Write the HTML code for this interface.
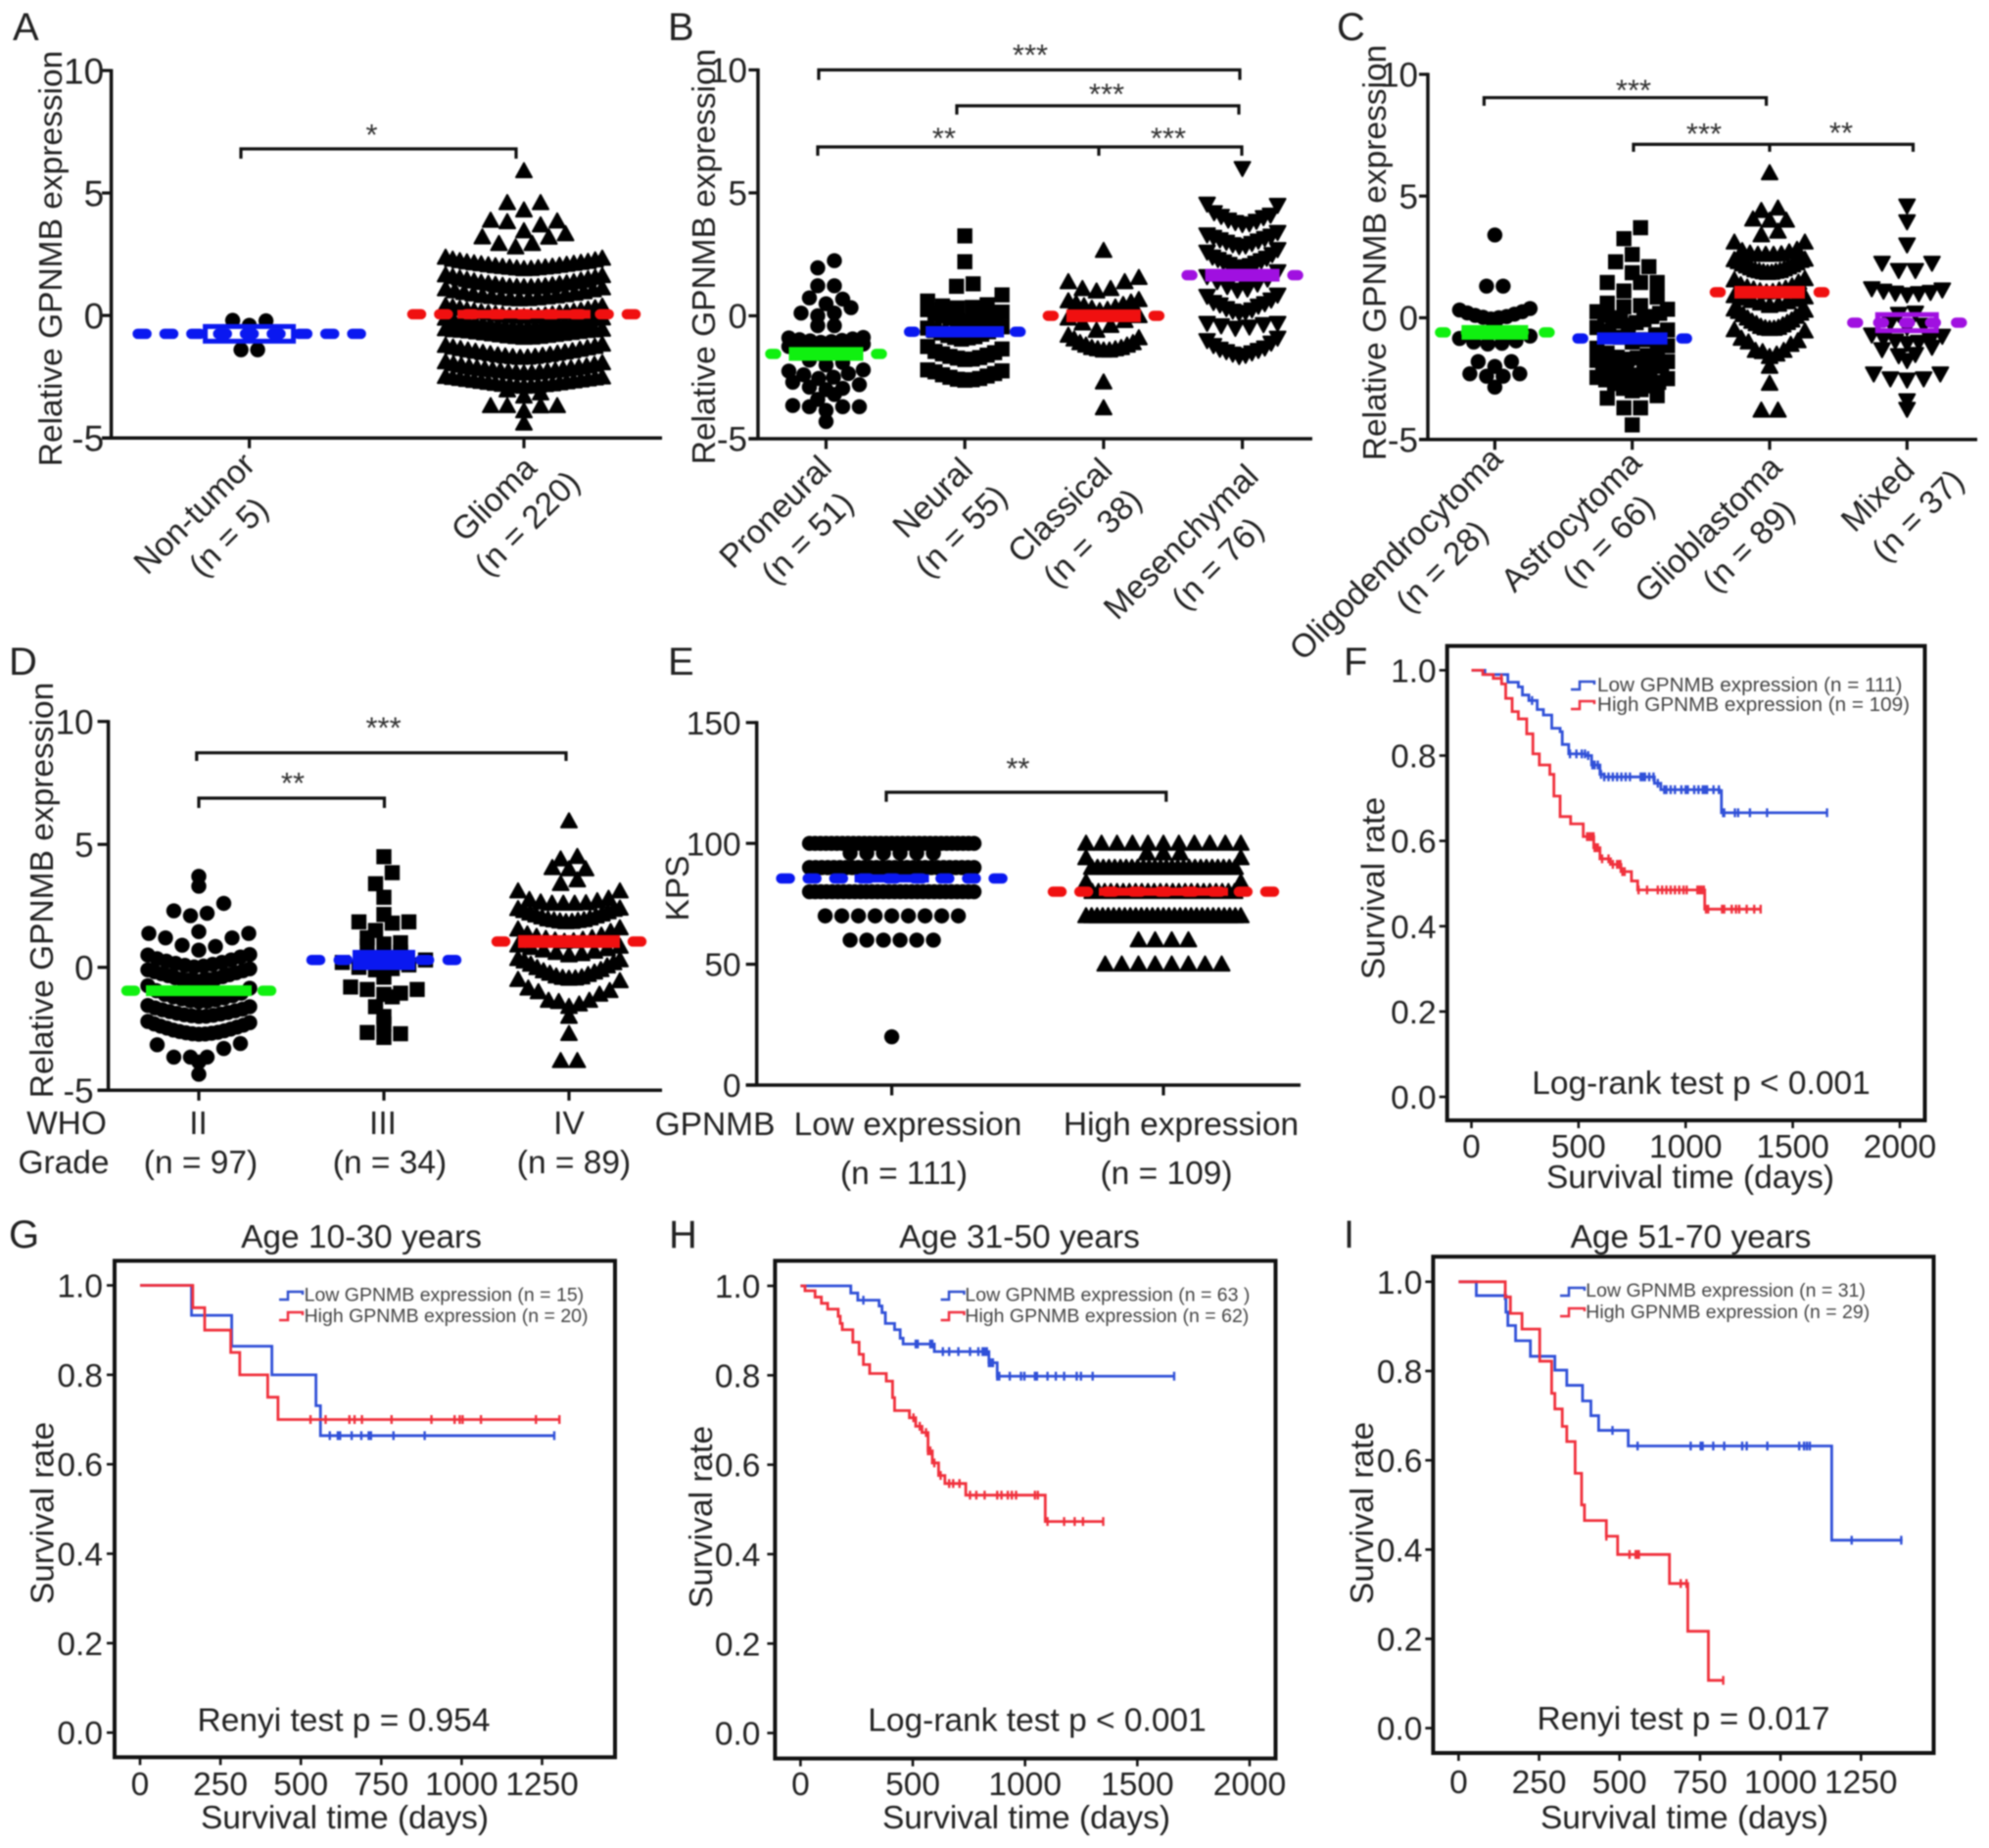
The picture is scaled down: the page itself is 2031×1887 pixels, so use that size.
<!DOCTYPE html>
<html lang="en">
<head>
<meta charset="utf-8">
<title>GPNMB expression and survival in glioma</title>
<style>
html,body{margin:0;padding:0;background:#fff;}
svg{display:block;filter:blur(0.8px);}
text{font-family:"Liberation Sans",Arial,sans-serif;fill:#222;}
.t33{font-size:33.5px;}
.letter{font-size:40px;}
.star{font-size:31px;text-anchor:middle;fill:#333;}
.mid{text-anchor:middle;}
.leg{font-size:20.7px;fill:#444;}
.br{fill:none;stroke:#111;stroke-width:3.2;}
.key{fill:none;stroke-width:2.5;}
</style>
</head>
<body>
<svg id="figure" xmlns="http://www.w3.org/2000/svg" width="2031" height="1887" viewBox="0 0 2031 1887">
<rect width="2031" height="1887" fill="#fff"/>

<g id="panel-a">
<text class="letter" x="13" y="41">A</text>
<text class="t33 mid" transform="translate(63 264) rotate(-90)">Relative GPNMB expression</text>
<path class="br" d="M246 162V152H527V162"/>
<text class="star" x="379.500" y="148">*</text>
<text class="t33 mid" x="198" y="524" dy=".35em" transform="rotate(-45 198 524)">Non-tumor</text>
<text class="t33 mid" x="233" y="548" dy=".35em" transform="rotate(-45 233 548)">(n = 5)</text>
<text class="t33 mid" x="504" y="509" dy=".35em" transform="rotate(-45 504 509)">Glioma</text>
<text class="t33 mid" x="538" y="534" dy=".35em" transform="rotate(-45 538 534)">(n = 220)</text>
</g>

<g id="panel-b">
<text class="letter" x="682" y="41">B</text>
<text class="t33 mid" transform="translate(730 262) rotate(-90)">Relative GPNMB expression</text>
<path class="br" d="M836 81.600V71.400H1266V81.600"/>
<path class="br" d="M977 117V108H1265V117"/>
<path class="br" d="M835 159V150H1268V159M1122 150V159"/>
<text class="star" x="1052" y="66.600">***</text>
<text class="star" x="1130" y="106.600">***</text>
<text class="star" x="964" y="151.500">**</text>
<text class="star" x="1193" y="151.500">***</text>
<text class="t33 mid" x="791.400" y="522.400" dy=".35em" transform="rotate(-45 791.400 522.400)">Proneural</text>
<text class="t33 mid" x="824" y="549" dy=".35em" transform="rotate(-45 824 549)">(n = 51)</text>
<text class="t33 mid" x="952" y="508" dy=".35em" transform="rotate(-45 952 508)">Neural</text>
<text class="t33 mid" x="981" y="542" dy=".35em" transform="rotate(-45 981 542)">(n = 55)</text>
<text class="t33 mid" x="1082" y="521" dy=".35em" transform="rotate(-45 1082 521)">Classical</text>
<text class="t33 mid" x="1115" y="549" dy=".35em" transform="rotate(-45 1115 549)">(n =&#160; 38)</text>
<text class="t33 mid" x="1205.600" y="553" dy=".35em" transform="rotate(-45 1205.600 553)">Mesenchymal</text>
<text class="t33 mid" x="1243" y="575" dy=".35em" transform="rotate(-45 1243 575)">(n = 76)</text>
</g>

<g id="panel-c">
<text class="letter" x="1365" y="41">C</text>
<text class="t33 mid" transform="translate(1415 258) rotate(-90)">Relative GPNMB expression</text>
<path class="br" d="M1515.400 108V99.700H1803.600V108"/>
<path class="br" d="M1668 155V147.400H1953.500V155M1807 147.400V155"/>
<text class="star" x="1668" y="102.700">***</text>
<text class="star" x="1740" y="147">***</text>
<text class="star" x="1880" y="146">**</text>
<text class="t33 mid" x="1425" y="565" dy=".35em" transform="rotate(-45 1425 565)">Oligodendrocytoma</text>
<text class="t33 mid" x="1472" y="578" dy=".35em" transform="rotate(-45 1472 578)">(n = 28)</text>
<text class="t33 mid" x="1604" y="532" dy=".35em" transform="rotate(-45 1604 532)">Astrocytoma</text>
<text class="t33 mid" x="1642" y="552" dy=".35em" transform="rotate(-45 1642 552)">(n = 66)</text>
<text class="t33 mid" x="1744" y="540" dy=".35em" transform="rotate(-45 1744 540)">Glioblastoma</text>
<text class="t33 mid" x="1785" y="557" dy=".35em" transform="rotate(-45 1785 557)">(n = 89)</text>
<text class="t33 mid" x="1917" y="505" dy=".35em" transform="rotate(-45 1917 505)">Mixed</text>
<text class="t33 mid" x="1958" y="526" dy=".35em" transform="rotate(-45 1958 526)">(n = 37)</text>
</g>

<g id="panel-d">
<text class="letter" x="9" y="689">D</text>
<text class="t33 mid" transform="translate(54 909) rotate(-90)">Relative GPNMB expression</text>
<path class="br" d="M200.800 777V768.700H578V777"/>
<path class="br" d="M203 825V815H392.500V825"/>
<text class="star" x="391.600" y="753.600">***</text>
<text class="star" x="299" y="810">**</text>
<text class="t33 mid" x="68" y="1158">WHO</text>
<text class="t33 mid" x="65" y="1198">Grade</text>
<text class="t33 mid" x="202.500" y="1158">II</text>
<text class="t33 mid" x="391" y="1158">III</text>
<text class="t33 mid" x="581" y="1158">IV</text>
<text class="t33 mid" x="205" y="1198">(n = 97)</text>
<text class="t33 mid" x="398" y="1198">(n = 34)</text>
<text class="t33 mid" x="586" y="1198">(n = 89)</text>
</g>

<g id="panel-e">
<text class="letter" x="682" y="689">E</text>
<text class="t33 mid" transform="translate(703 907) rotate(-90)">KPS</text>
<path class="br" d="M905 818.700V809H1190.800V818.700"/>
<text class="star" x="1039.400" y="795">**</text>
<text class="t33 mid" x="730" y="1159">GPNMB</text>
<text class="t33 mid" x="927" y="1159">Low expression</text>
<text class="t33 mid" x="1206" y="1159">High expression</text>
<text class="t33 mid" x="923" y="1209">(n = 111)</text>
<text class="t33 mid" x="1191" y="1209">(n = 109)</text>
</g>

<g id="panel-f">
<text class="letter" x="1372" y="689">F</text>
<text class="t33 mid" transform="translate(1413.500 907) rotate(-90)">Survival rate</text>
<text class="t33 mid" x="1726" y="1213">Survival time (days)</text>
<path class="key" stroke="#3050d0" d="M1604 704H1613V696H1628V699"/>
<path class="key" stroke="#f03040" d="M1604 724H1613V716H1628V719"/>
<text class="leg" x="1631" y="706">Low GPNMB expression (n = 111)</text>
<text class="leg" x="1631" y="726">High GPNMB expression (n = 109)</text>
<text class="t33 mid" x="1737" y="1117">Log-rank test p &lt; 0.001</text>
</g>

<g id="panel-g">
<text class="letter" x="9" y="1274">G</text>
<text class="t33 mid" x="369" y="1274">Age 10-30 years</text>
<text class="t33 mid" transform="translate(54.700 1545) rotate(-90)">Survival rate</text>
<text class="t33 mid" x="352" y="1867">Survival time (days)</text>
<path class="key" stroke="#3050d0" d="M285 1327H294V1319H309V1322"/>
<path class="key" stroke="#f03040" d="M285 1348H294V1340H309V1343"/>
<text class="leg" x="310.600" y="1328.400" style="font-size:19.500px">Low GPNMB expression (n = 15)</text>
<text class="leg" x="310.600" y="1350" style="font-size:19.500px">High GPNMB expression (n = 20)</text>
<text class="t33 mid" x="351" y="1767.500">Renyi test p = 0.954</text>
</g>

<g id="panel-h">
<text class="letter" x="683" y="1274">H</text>
<text class="t33 mid" x="1041" y="1274">Age 31-50 years</text>
<text class="t33 mid" transform="translate(727 1549) rotate(-90)">Survival rate</text>
<text class="t33 mid" x="1048" y="1867">Survival time (days)</text>
<path class="key" stroke="#3050d0" d="M960.600 1327H969V1319H984.500V1322"/>
<path class="key" stroke="#f03040" d="M960.600 1348H969V1340H984.500V1343"/>
<text class="leg" x="985.400" y="1328.400" style="font-size:19.500px">Low GPNMB expression (n = 63 )</text>
<text class="leg" x="985.400" y="1350" style="font-size:19.500px">High GPNMB expression (n = 62)</text>
<text class="t33 mid" x="1059" y="1767.500">Log-rank test p &lt; 0.001</text>
</g>

<g id="panel-i">
<text class="letter" x="1372" y="1274">I</text>
<text class="t33 mid" x="1726.500" y="1274">Age 51-70 years</text>
<text class="t33 mid" transform="translate(1402 1545) rotate(-90)">Survival rate</text>
<text class="t33 mid" x="1720" y="1867">Survival time (days)</text>
<path class="key" stroke="#3050d0" d="M1593 1323H1602V1315H1618V1318"/>
<path class="key" stroke="#f03040" d="M1593 1344H1602V1336H1618V1339"/>
<text class="leg" x="1619.300" y="1324" style="font-size:19.500px">Low GPNMB expression (n = 31)</text>
<text class="leg" x="1619.300" y="1346" style="font-size:19.500px">High GPNMB expression (n = 29)</text>
<text class="t33 mid" x="1719" y="1766">Renyi test p = 0.017</text>
</g>
</svg>

<script>
/* ---------- tick values ---------- */
const expressionTicks = [-5, 0, 5, 10];
const kpsTicks = [0, 50, 100, 150];
const survivalTicks = [0, 0.2, 0.4, 0.6, 0.8, 1];
const timeTicks2000 = [0, 500, 1000, 1500, 2000];
const timeTicks1250 = [0, 250, 500, 750, 1000, 1250];

/* ---------- panel A values ---------- */
const nonTumorValues = [-0.22, -0.4, -0.2, -1.4, -1.4];
const gliomaValues = [5.9,4.6,4.6,4.3,3.45,3.69,3.82,3.85,3.88,2.79,2.93,2.93,3.19,3.2,3.33,
1.9,1.91,1.93,1.94,1.96,1.97,1.99,2,2.02,2.04,2.06,2.08,2.1,2.12,2.14,2.16,2.18,2.2,2.23,2.26,2.29,2.33,2.37,
1.16,1.16,1.17,1.17,1.18,1.2,1.22,1.24,1.26,1.28,1.3,1.32,1.34,1.37,1.4,1.43,1.46,1.49,1.52,1.55,1.58,1.62,1.65,
0.67,0.68,0.69,0.71,0.73,0.75,0.77,0.79,0.81,0.84,0.87,0.9,0.93,0.96,1,1.04,1.08,1.12,
-0.05,-0.04,-0.03,-0.02,-0.01,0.01,0.03,0.05,0.07,0.09,0.1,0.12,0.14,0.16,0.18,0.2,0.22,0.25,0.28,0.31,0.34,0.37,0.4,
-0.52,-0.51,-0.5,-0.49,-0.48,-0.46,-0.44,-0.42,-0.4,-0.38,-0.36,-0.34,-0.32,-0.3,-0.28,-0.26,-0.23,-0.2,-0.17,-0.14,-0.12,-0.11,
-0.9,-0.89,-0.87,-0.86,-0.84,-0.82,-0.8,-0.78,-0.76,-0.74,-0.72,-0.7,-0.68,-0.66,-0.64,-0.62,-0.61,-0.6,-0.59,-0.57,-0.55,
-1.72,-1.71,-1.69,-1.68,-1.66,-1.64,-1.62,-1.6,-1.57,-1.55,-1.52,-1.5,-1.47,-1.45,-1.42,-1.39,-1.36,-1.33,-1.3,-1.27,-1.23,-1.18,
-2.36,-2.35,-2.33,-2.32,-2.3,-2.28,-2.26,-2.24,-2.22,-2.2,-2.18,-2.16,-2.14,-2.12,-2.1,-2.07,-2.04,-2.01,-1.98,-1.94,-1.9,
-2.9,-2.89,-2.88,-2.86,-2.85,-2.83,-2.82,-2.8,-2.78,-2.76,-2.74,-2.72,-2.7,-2.68,-2.66,-2.64,-2.62,-2.6,-2.58,-2.56,-2.54,-2.52,-2.5,
-3.05,-3.17,-3.3,-3.69,-3.69,-3.69,-3.9,-3.7,-4.4];
const gliomaRowEdges = [-4.7,-4.1,-3.5,-2.95,-2.45,-1.8,-1.1,-0.53,-0.1,0.42,1.155,1.75,2.45,3.4,3.95,4.7,6.5];

/* ---------- panel B values ---------- */
const proneuralValues = [2.24,1.95,1.22,1.22,0.68,0.73,0.49,0.33,0.11,0.11,0,-0.4,-0.4,
-1.08,-1.05,-1.02,-1,-0.97,-0.94,-0.9,-0.88,-1.55,-1.5,-1.48,-1.42,-1.4,-1.33,-1.25,-1.15,-2,-1.9,-1.8,
-2.55,-2.5,-2.4,-2.35,-2.25,-2.2,-2.95,-2.9,-2.8,-2.7,-3.2,-3,-3.4,-3.7,-3.7,-3.7,-3.85,-3.65,-4.3];
const neuralValues = [3.25,2.2,1.3,1.2,0.32,0.34,0.4,0.45,0.6,0.85,
-0.25,-0.22,-0.2,-0.15,-0.1,-0.05,0,0.05,0.1,0.15,0.25,
-0.95,-0.9,-0.88,-0.85,-0.8,-0.75,-0.7,-0.65,-0.6,-0.55,-0.5,-0.45,
-1.78,-1.76,-1.72,-1.7,-1.65,-1.6,-1.55,-1.5,-1.45,-1.35,-1.25,
-2.62,-2.6,-2.58,-2.55,-2.5,-2.45,-2.4,-2.35,-2.28,-2.24,-2.2];
const neuralRowEdges = [-2.85,-2,-1.2,-0.4,0.3,0.95,1.5,2,2.6,3.6];
const classicalValues = [2.65,1.55,1.38,1.38,1.1,1.1,1,0.2,0.25,0.3,0.35,0.4,0.45,0.5,0.55,0.6,0.65,
-0.6,-0.4,-0.3,-0.2,-0.1,0,-1.4,-1.4,-1.35,-1.35,-1.3,-1.3,-1.2,-1.2,-1.1,-1.1,-0.95,-0.9,-0.8,-2.7,-3.75];
const mesenchymalValues = [6,3.72,3.75,3.8,3.85,3.9,4,4.05,4.1,4.2,4.5,4.55,
2.82,2.85,2.9,2.95,3,3.05,3.1,3.15,3.2,3.25,3.3,3.4,
1.92,1.95,2,2.05,2.1,2.15,2.2,2.25,2.3,2.35,2.4,2.5,2.6,2.7,
1.05,1.1,1.2,1.3,1.4,1.5,1.6,1.8,
0.12,0.15,0.2,0.25,0.3,0.4,0.45,0.5,0.55,0.65,0.8,0.85,
-0.5,-0.45,-0.4,-0.35,-0.3,-0.3,
-1.65,-1.6,-1.55,-1.5,-1.45,-1.4,-1.35,-1.3,-1.2,-1.1,-1,-0.9];

/* ---------- panel C values ---------- */
const oligoValues = [3.4,1.3,1.3,-0.05,0,0.02,0.05,0.1,0.15,0.2,0.25,0.32,0.38,-0.3,
-1.08,-1.05,-1,-0.95,-0.85,-0.75,-1.8,-1.8,-2,-2.3,-2.3,-2.4,-2.4,-2.85];
const astroValues = [3.7,3.25,2.6,2.1,2.3,1.45,1.45,1.45,1.85,1.1,0.45,0.5,0.6,0.85,
-0.08,0,0.05,0.1,0.18,0.25,0.35,-0.55,-0.5,-0.4,-0.3,-0.2,-0.15,-1,-0.9,-0.8,-0.7,
-1.55,-1.45,-1.35,-1.25,-1.15,
-2.05,-2,-1.95,-1.9,-1.85,-1.8,-1.75,-1.7,-1.65,-1.62,
-2.55,-2.5,-2.45,-2.4,-2.35,-2.3,-2.25,-2.2,-2.15,
-3,-2.95,-2.9,-2.8,-2.7,-2.65,-3.2,-3.3,-3.7,-3.7,-4.4];
const glioblastomaValues = [5.95,4.5,4.4,4,4,4.05,3.55,3.4,
2.6,2.6,2.6,2.62,2.65,2.7,2.75,2.8,3.1,3.1,
1.85,1.86,1.88,1.9,1.92,1.93,1.96,2,2.04,2.08,2.12,2.16,2.2,2.25,2.3,2.35,2.38,2.4,
1.05,1.07,1.1,1.13,1.17,1.2,1.25,1.3,1.35,1.45,1.55,1.6,
0.5,0.55,0.6,0.65,0.7,0.75,0.8,0.85,0.9,
-0.45,-0.44,-0.42,-0.4,-0.36,-0.3,-0.25,-0.2,-0.15,-0.1,-0.02,0.05,0.12,0.18,0.25,0.3,0.35,
-0.5,-0.55,-0.85,-1,-1.1,-0.95,-1.35,-1.5,-1.6,-1.4,-1.35,-2,-2.7,-3.8,-3.8];
const glioblastomaRowEdges = [-4.2,-3.4,-2.4,-1.75,-0.48,0.42,1,1.75,2.5,3.2,3.7,4.2,4.7,6.5];
const mixedValues = [4.6,3.95,3,1.95,1.95,2.25,2.25,0.95,1,1.02,1.05,1.1,1.15,1.2,
0.15,0.2,-0.4,-0.3,-0.2,-1.05,-1,-0.95,-0.9,-0.85,-0.75,-0.7,-1.55,-1.5,-1.3,-1.2,-1.75,
-2.3,-2.3,-2.5,-2.5,-2.55,-3.4,-3.75];

/* ---------- panel D values ---------- */
const gradeIIValues = [3.7,3.3,2.6,2.3,2.2,2.1,1.45,1.38,1.38,1.2,1.2,0.9,0.85,0.7,
0.02,0.05,0.08,0.12,0.16,0.2,0.25,0.3,0.35,0.42,0.5,0.52,
-0.55,-0.54,-0.52,-0.5,-0.48,-0.45,-0.42,-0.38,-0.34,-0.3,-0.26,-0.22,-0.18,-0.14,-0.1,-0.06,
-1.4,-1.38,-1.35,-1.32,-1.28,-1.24,-1.2,-1.15,-1.1,-1.05,-0.95,-0.85,-0.75,
-2,-1.99,-1.97,-1.95,-1.93,-1.9,-1.87,-1.84,-1.8,-1.77,-1.73,-1.7,-1.65,-1.6,-1.55,
-2.72,-2.71,-2.7,-2.68,-2.66,-2.64,-2.61,-2.58,-2.55,-2.51,-2.47,-2.43,-2.39,-2.35,-2.3,-2.25,-2.2,
-3.1,-3.15,-3.3,-3.65,-3.65,-3.65,-3.85,-4.35];
const gradeIIRowEdges = [-4.7,-4.05,-3.75,-2.85,-2.1,-1.45,-0.6,-0.04,0.68,1.4,2.05,2.84,3.56,4.3];
const gradeIIIValues = [4.5,3.85,3.4,2.85,2.15,1.8,1.85,1.85,1.5,1.2,1,0.95,0.85,0.6,0.4,0.3,0.2,0.1,0,-0.05,-0.1,
-0.4,-0.8,-0.9,-1.05,-1.1,-0.9,-1.2,-1.6,-2,-2.3,-2.65,-2.7,-2.85];

/* ---------- panel E values ---------- */
const kpsLowValues = [100,100,100,100,100,100,100,100,100,100,100,100,100,100,100,100,100,100,100,100,100,100,100,100,100,100,100,100,100,100,100,
96,96,96,96,96,96,
90,90,90,90,90,90,90,90,90,90,90,90,90,90,90,90,90,90,90,90,90,90,90,90,90,90,90,90,
80,80,80,80,80,80,80,80,80,80,80,80,80,80,80,80,80,80,80,80,80,80,80,80,80,80,80,80,80,80,
70,70,70,70,70,70,70,70,70,60,60,60,60,60,60,20];
const kpsHighValues = [100,100,100,100,100,100,100,100,100,100,100,96,96,96,94,94,
90,90,90,90,90,90,90,90,90,90,90,90,90,90,90,90,90,90,90,90,90,90,90,90,90,90,
84,84,80,80,80,80,80,80,80,80,80,80,80,80,80,80,80,80,80,80,80,80,80,80,80,80,
70,70,70,70,70,70,70,70,70,70,70,70,70,70,70,70,70,70,70,70,70,70,70,70,70,70,70,70,70,
60,60,60,60,50,50,50,50,50,50,50,50];

/* ---------- group means and SEMs ---------- */
const meansA = [-0.75, 0.05];
const semsA = [0.3, 0.1];
const meansB = [-1.55, -0.65, 0, 1.65];
const semsB = [0.2, 0.15, 0.18, 0.18];
const meansC = [-0.6, -0.85, 1.05, -0.2];
const semsC = [0.22, 0.17, 0.18, 0.33];
const meansD = [-0.95, 0.3, 1.05];
const semsD = [0.14, 0.33, 0.18];
const meansE = [85.5, 80];
const semsE = [0.9, 0.9];

/* ---------- survival curves: step times, survival after step, censor times ---------- */
const fLowTimes = [63,170,219,238,268,307,336,375,414,424,454,532,561,600,620,854,884,1157,1167];
const fLowSurvival = [0.99,0.972,0.961,0.942,0.929,0.908,0.895,0.864,0.856,0.826,0.804,0.8,0.778,0.756,0.75,0.735,0.72,0.718,0.666];
const fLowCensor = [283,460,490,515,530,545,565,575,590,605,620,640,660,680,700,720,740,790,800,810,830,850,870,900,910,930,950,980,1000,1010,1040,1060,1080,1090,1100,1130,1155,1175,1180,1230,1245,1300,1380,1660];
const fLowEnd = 1660;
const fHighTimes = [53,102,141,160,190,219,258,287,317,366,385,414,463,522,571,600,649,698,747,776,1089];
const fHighSurvival = [0.99,0.981,0.968,0.934,0.903,0.886,0.851,0.804,0.778,0.756,0.705,0.657,0.64,0.61,0.584,0.558,0.545,0.528,0.506,0.485,0.44];
const fHighCensor = [140,540,550,560,570,575,580,590,610,640,660,680,690,695,705,715,780,820,870,890,910,930,950,970,990,1005,1055,1065,1075,1085,1095,1105,1170,1180,1215,1235,1250,1285,1320,1350];
const fHighEnd = 1350;

const gLowTimes = [160,285,410,547,561];
const gLowSurvival = [0.933,0.864,0.8,0.731,0.664];
const gLowCensor = [590,615,622,658,688,711,718,788,885,1288];
const gLowEnd = 1290;
const gHighTimes = [164,201,282,310,397,429];
const gHighSurvival = [0.95,0.9,0.85,0.8,0.75,0.7];
const gHighCensor = [530,577,651,667,690,782,906,978,994,1003,1060,1231,1304];
const gHighEnd = 1307;

const hLowTimes = [224,255,350,363,378,419,444,457,596,839,876];
const hLowSurvival = [0.984,0.968,0.955,0.94,0.916,0.902,0.883,0.87,0.853,0.828,0.798];
const hLowCensor = [280,513,522,578,587,634,662,703,755,792,811,820,830,839,848,857,876,885,932,982,997,1044,1053,1100,1137,1174,1230,1249,1301,1664];
const hLowEnd = 1668;
const hHighTimes = [20,65,93,121,168,177,186,233,261,280,308,382,410,419,485,513,541,568,587,615,643,736,1090];
const hHighSurvival = [0.989,0.975,0.961,0.948,0.932,0.916,0.902,0.874,0.847,0.824,0.804,0.787,0.75,0.721,0.705,0.686,0.672,0.631,0.604,0.576,0.558,0.532,0.473];
const hHighCensor = [503,531,559,568,578,596,624,662,680,708,755,783,820,876,895,923,941,960,1044,1057,1100,1174,1221,1258,1348];
const hHighEnd = 1351;

const iLowTimes = [55,147,153,177,223,299,336,385,411,435,527,1159];
const iLowSurvival = [0.969,0.932,0.902,0.868,0.833,0.802,0.768,0.733,0.7,0.667,0.632,0.421];
const iLowCensor = [144,478,556,721,752,758,791,825,881,895,959,1058,1073,1082,1091,1221,1375];
const iLowEnd = 1379;
const iHighTimes = [145,161,197,252,289,299,322,336,362,382,391,459,494,655,712,776];
const iHighSurvival = [0.966,0.929,0.894,0.822,0.75,0.715,0.676,0.642,0.571,0.5,0.465,0.43,0.389,0.324,0.217,0.107];
const iHighCensor = [459,531,550,556,560,690,708,822];
const iHighEnd = 825;

/* ---------- helpers ---------- */
const SVG_NS = 'http://www.w3.org/2000/svg';
function make(tag, parent, attrs) {
  const el = document.createElementNS(SVG_NS, tag);
  for (const k in attrs) el.setAttribute(k, attrs[k]);
  parent.appendChild(el);
  return el;
}

function binOf(v, group) {
  if (group.edges) {
    let i = 0;
    while (i < group.edges.length - 2 && v >= group.edges[i + 1]) i++;
    return i;
  }
  return Math.floor((v - group.binStart) / group.binWidth + 1e-9);
}

function swarm(group) {
  const bins = new Map();
  group.values.slice().sort((a, b) => a - b).forEach(v => {
    const b = binOf(v, group);
    if (!bins.has(b)) bins.set(b, []);
    bins.get(b).push(v);
  });
  const out = [];
  bins.forEach(list => {
    const n = list.length;
    const spacing = n > 1 ? Math.min(17, 2 * group.maxHalf / (n - 1)) : 0;
    list.forEach((v, j) => {
      let slot;
      if (n % 2) slot = j === 0 ? 0 : (j % 2 ? 1 : -1) * Math.ceil(j / 2);
      else slot = (j % 2 ? 1 : -1) * (Math.floor(j / 2) + 0.5);
      out.push({ offset: slot * spacing, value: v });
    });
  });
  return out;
}

function drawMarker(parent, shape, x, y) {
  let el;
  if (shape === 'circle') {
    el = make('circle', parent, { cx: x, cy: y, r: 7.7, fill: '#000' });
  } else if (shape === 'square') {
    el = make('rect', parent, { x: x - 7.7, y: y - 7.7, width: 15.4, height: 15.4, fill: '#000' });
  } else if (shape === 'up') {
    el = make('polygon', parent, { points: (x) + ',' + (y - 8) + ' ' + (x + 8) + ',' + (y + 6.5) + ' ' + (x - 8) + ',' + (y + 6.5), fill: '#000', stroke: '#000', 'stroke-width': 2, 'stroke-linejoin': 'round' });
  } else {
    el = make('polygon', parent, { points: (x) + ',' + (y + 8) + ' ' + (x + 8) + ',' + (y - 6.5) + ' ' + (x - 8) + ',' + (y - 6.5), fill: '#000', stroke: '#000', 'stroke-width': 2, 'stroke-linejoin': 'round' });
  }
  
  
}

function dashPattern(halfSpan, dash, period) {
  const span = 2 * halfSpan;
  const n = Math.max(1, Math.round((span - dash) / period));
  const gap = (span - dash * (n + 1)) / n;
  return dash + ' ' + gap;
}

function drawSwarmPanel(cfg) {
  const root = document.getElementById(cfg.id);
  const yOf = v => cfg.yBottom - (v - cfg.ticks[0]) / (cfg.ticks[cfg.ticks.length - 1] - cfg.ticks[0]) * (cfg.yBottom - cfg.yTop);
  const xOf = i => cfg.firstX + i * cfg.stepX;

  cfg.groups.forEach((g, i) => {
    const gEl = make('g', root, {});
    
    
    swarm(g).forEach(p => drawMarker(gEl, g.shape, xOf(i) + p.offset, yOf(p.value)));

    const box = make('rect', gEl, {
      x: xOf(i) - g.boxHalf, y: yOf(cfg.means[i] + cfg.sems[i]),
      width: 2 * g.boxHalf, height: yOf(cfg.means[i] - cfg.sems[i]) - yOf(cfg.means[i] + cfg.sems[i]),
      fill: g.hollow ? 'none' : g.color, stroke: g.color, 'stroke-width': g.hollow ? 5 : 4
    });
    
    

    const line = make('line', gEl, {
      x1: xOf(i) - g.meanHalf, x2: xOf(i) + g.meanHalf, y1: yOf(cfg.means[i]), y2: yOf(cfg.means[i]),
      stroke: g.color, 'stroke-width': 10.5, 'stroke-linecap': 'round',
      'stroke-dasharray': dashPattern(g.meanHalf, cfg.dash, cfg.dashPeriod)
    });
    
    
  });

  const yAxis = make('line', root, { x1: cfg.axisX, x2: cfg.axisX, y1: cfg.yTop - 1.5, y2: cfg.yBottom + 1.5, stroke: '#111', 'stroke-width': 3.5 });
  
  
  const xAxis = make('line', root, { x1: cfg.axisX - cfg.tickLen, x2: cfg.right, y1: cfg.yBottom, y2: cfg.yBottom, stroke: '#111', 'stroke-width': 3.5 });
  
  

  cfg.ticks.forEach(t => {
    const tick = make('line', root, { x1: cfg.axisX - cfg.tickLen, x2: cfg.axisX, y1: yOf(t), y2: yOf(t), stroke: '#111', 'stroke-width': 3.2 });
    
    
    const label = make('text', root, { x: cfg.axisX - cfg.labelGap, y: yOf(t) + cfg.tickFont * 0.36, 'text-anchor': 'end', 'font-size': cfg.tickFont });
    label.textContent = String(t);
    
    
  });
  cfg.groups.forEach((g, i) => {
    const tick = make('line', root, { x1: xOf(i), x2: xOf(i), y1: cfg.yBottom, y2: cfg.yBottom + 10.5, stroke: '#111', 'stroke-width': 3.2 });
    
    
  });
}

function stepPath(times, surv, end, xOf, yOf) {
  let d = 'M' + xOf(0) + ' ' + yOf(1);
  times.forEach((t, i) => { d += 'H' + xOf(t) + 'V' + yOf(surv[i]); });
  return d + 'H' + xOf(end);
}
function survivalAt(t, times, surv) {
  let s = 1;
  for (let i = 0; i < times.length; i++) if (t >= times[i]) s = surv[i];
  return s;
}

function drawKmPanel(cfg) {
  const root = document.getElementById(cfg.id);
  const maxT = cfg.xTicks[cfg.xTicks.length - 1];
  const xOf = t => cfg.x0 + t / maxT * (cfg.xMax - cfg.x0);
  const yOf = s => cfg.y0 - s * (cfg.y0 - cfg.y1);

  cfg.curves.forEach(c => {
    const gEl = make('g', root, {});
    
    
    const path = make('path', gEl, { d: stepPath(c.times, c.surv, c.end, xOf, yOf), fill: 'none', stroke: c.color, 'stroke-width': 2.8 });
    
    
    c.censor.forEach(t => {
      const y = yOf(survivalAt(t, c.times, c.surv));
      const mark = make('line', gEl, { x1: xOf(t), x2: xOf(t), y1: y - 4.5, y2: y + 4.5, stroke: c.color, 'stroke-width': 2.4 });
      
      
    });
  });

  const frame = make('rect', root, { x: cfg.left, y: cfg.top, width: cfg.rightEdge - cfg.left, height: cfg.bottom - cfg.top, fill: 'none', stroke: '#111', 'stroke-width': 4 });
  
  

  survivalTicks.forEach(s => {
    const tick = make('line', root, { x1: cfg.left - 8, x2: cfg.left, y1: yOf(s), y2: yOf(s), stroke: '#111', 'stroke-width': 2.6 });
    
    
    const label = make('text', root, { x: cfg.left - cfg.yLabelGap, y: yOf(s) + 12, 'text-anchor': 'end', 'font-size': 33.5 });
    label.textContent = s.toFixed(1);
    
    
  });
  cfg.xTicks.forEach(t => {
    const tick = make('line', root, { x1: xOf(t), x2: xOf(t), y1: cfg.bottom, y2: cfg.bottom + 8, stroke: '#111', 'stroke-width': 2.6 });
    
    
    const label = make('text', root, { x: xOf(t), y: cfg.xLabelY, 'text-anchor': 'middle', 'font-size': 33.5 });
    label.textContent = String(t);
    
    
  });
}

/* ---------- draw ---------- */
const BLUE = '#0a18f0', RED = '#f01010', GREEN = '#10f010', PURPLE = '#a010e0';

drawSwarmPanel({ id: 'panel-a', axisX: 113.6, yTop: 72, yBottom: 447.2, right: 676, ticks: expressionTicks, tickLen: 9.6, labelGap: 7.4, tickFont: 37, dash: 9, dashPeriod: 28,
  firstX: 254.6, stepX: 280.4, means: meansA, sems: semsA,
  groups: [
    { name: 'non-tumor', values: nonTumorValues, shape: 'circle', binStart: -2, binWidth: 1, maxHalf: 80, color: BLUE, meanHalf: 114, boxHalf: 45, hollow: true },
    { name: 'glioma', values: gliomaValues, shape: 'up', edges: gliomaRowEdges, maxHalf: 80, color: RED, meanHalf: 114, boxHalf: 66 }
  ] });

drawSwarmPanel({ id: 'panel-b', axisX: 774, yTop: 71.4, yBottom: 448, right: 1340, ticks: expressionTicks, tickLen: 9.6, labelGap: 11, tickFont: 35, dash: 6, dashPeriod: 26,
  firstX: 843.5, stepX: 141.7, means: meansB, sems: semsB,
  groups: [
    { name: 'proneural', values: proneuralValues, shape: 'circle', binStart: 0.4, binWidth: 0.5, maxHalf: 38, color: GREEN, meanHalf: 57, boxHalf: 36 },
    { name: 'neural', values: neuralValues, shape: 'square', edges: neuralRowEdges, maxHalf: 38, color: BLUE, meanHalf: 57, boxHalf: 38 },
    { name: 'classical', values: classicalValues, shape: 'up', binStart: -1.5, binWidth: 0.8, maxHalf: 36, color: RED, meanHalf: 57, boxHalf: 36 },
    { name: 'mesenchymal', values: mesenchymalValues, shape: 'down', binStart: -1.7, binWidth: 0.9, maxHalf: 36, color: PURPLE, meanHalf: 57, boxHalf: 36 }
  ] });

drawSwarmPanel({ id: 'panel-c', axisX: 1458, yTop: 75.9, yBottom: 448.8, right: 2019, ticks: expressionTicks, tickLen: 9, labelGap: 10, tickFont: 35, dash: 6, dashPeriod: 26,
  firstX: 1526.4, stepX: 140.3, means: meansC, sems: semsC,
  groups: [
    { name: 'oligodendrocytoma', values: oligoValues, shape: 'circle', binStart: 0.4, binWidth: 0.5, maxHalf: 36, color: GREEN, meanHalf: 56, boxHalf: 32 },
    { name: 'astrocytoma', values: astroValues, shape: 'square', binStart: 0.4, binWidth: 0.7, maxHalf: 36, color: BLUE, meanHalf: 56, boxHalf: 34 },
    { name: 'glioblastoma', values: glioblastomaValues, shape: 'up', edges: glioblastomaRowEdges, maxHalf: 36, color: RED, meanHalf: 56, boxHalf: 34 },
    { name: 'mixed', values: mixedValues, shape: 'down', binStart: 0.4, binWidth: 0.5, maxHalf: 36, color: PURPLE, meanHalf: 56, boxHalf: 30, hollow: true }
  ] });

drawSwarmPanel({ id: 'panel-d', axisX: 110.6, yTop: 736.7, yBottom: 1113.3, right: 676, ticks: expressionTicks, tickLen: 11, labelGap: 15, tickFont: 35, dash: 9, dashPeriod: 28,
  firstX: 203, stepX: 189, means: meansD, sems: semsD,
  groups: [
    { name: 'grade-ii', values: gradeIIValues, shape: 'circle', edges: gradeIIRowEdges, maxHalf: 52, color: GREEN, meanHalf: 74, boxHalf: 52 },
    { name: 'grade-iii', values: gradeIIIValues, shape: 'square', binStart: 0.4, binWidth: 0.5, maxHalf: 52, color: BLUE, meanHalf: 74, boxHalf: 30 },
    { name: 'grade-iv', values: glioblastomaValues, shape: 'up', edges: glioblastomaRowEdges, maxHalf: 52, color: RED, meanHalf: 74, boxHalf: 50 }
  ] });

drawSwarmPanel({ id: 'panel-e', axisX: 772.7, yTop: 737.8, yBottom: 1108, right: 1328, ticks: kpsTicks, tickLen: 11, labelGap: 16, tickFont: 33.5, dash: 9, dashPeriod: 28,
  firstX: 910.6, stepX: 277.4, means: meansE, sems: semsE,
  groups: [
    { name: 'low-expression', values: kpsLowValues, shape: 'circle', binStart: 0, binWidth: 5, maxHalf: 84, color: BLUE, meanHalf: 113, boxHalf: 36 },
    { name: 'high-expression', values: kpsHighValues, shape: 'up', binStart: 0, binWidth: 5, maxHalf: 79, color: RED, meanHalf: 113, boxHalf: 64 }
  ] });

const LOW_C = '#3050d8', HIGH_C = '#f0303c';

drawKmPanel({ id: 'panel-f', left: 1477.7, rightEdge: 1965.5, top: 659.6, bottom: 1144, x0: 1502.5, xMax: 1940, y1: 684.4, y0: 1120, xTicks: timeTicks2000, yLabelGap: 11, xLabelY: 1182,
  curves: [
    { name: 'low', times: fLowTimes, surv: fLowSurvival, censor: fLowCensor, end: fLowEnd, color: LOW_C },
    { name: 'high', times: fHighTimes, surv: fHighSurvival, censor: fHighCensor, end: fHighEnd, color: HIGH_C }
  ] });

drawKmPanel({ id: 'panel-g', left: 117, rightEdge: 628, top: 1287.4, bottom: 1794.3, x0: 143, xMax: 553.5, y1: 1312.5, y0: 1769.2, xTicks: timeTicks1250, yLabelGap: 12, xLabelY: 1833,
  curves: [
    { name: 'low', times: gLowTimes, surv: gLowSurvival, censor: gLowCensor, end: gLowEnd, color: LOW_C },
    { name: 'high', times: gHighTimes, surv: gHighSurvival, censor: gHighCensor, end: gHighEnd, color: HIGH_C }
  ] });

drawKmPanel({ id: 'panel-h', left: 791.4, rightEdge: 1302.5, top: 1287.4, bottom: 1795.6, x0: 817.4, xMax: 1276, y1: 1313, y0: 1769.6, xTicks: timeTicks2000, yLabelGap: 15, xLabelY: 1833,
  curves: [
    { name: 'low', times: hLowTimes, surv: hLowSurvival, censor: hLowCensor, end: hLowEnd, color: LOW_C },
    { name: 'high', times: hHighTimes, surv: hHighSurvival, censor: hHighCensor, end: hHighEnd, color: HIGH_C }
  ] });

drawKmPanel({ id: 'panel-i', left: 1463.4, rightEdge: 1974.5, top: 1283.2, bottom: 1790, x0: 1489.4, xMax: 1900.3, y1: 1308.8, y0: 1764.6, xTicks: timeTicks1250, yLabelGap: 11, xLabelY: 1831,
  curves: [
    { name: 'low', times: iLowTimes, surv: iLowSurvival, censor: iLowCensor, end: iLowEnd, color: LOW_C },
    { name: 'high', times: iHighTimes, surv: iHighSurvival, censor: iHighCensor, end: iHighEnd, color: HIGH_C }
  ] });
</script>
</body>
</html>
